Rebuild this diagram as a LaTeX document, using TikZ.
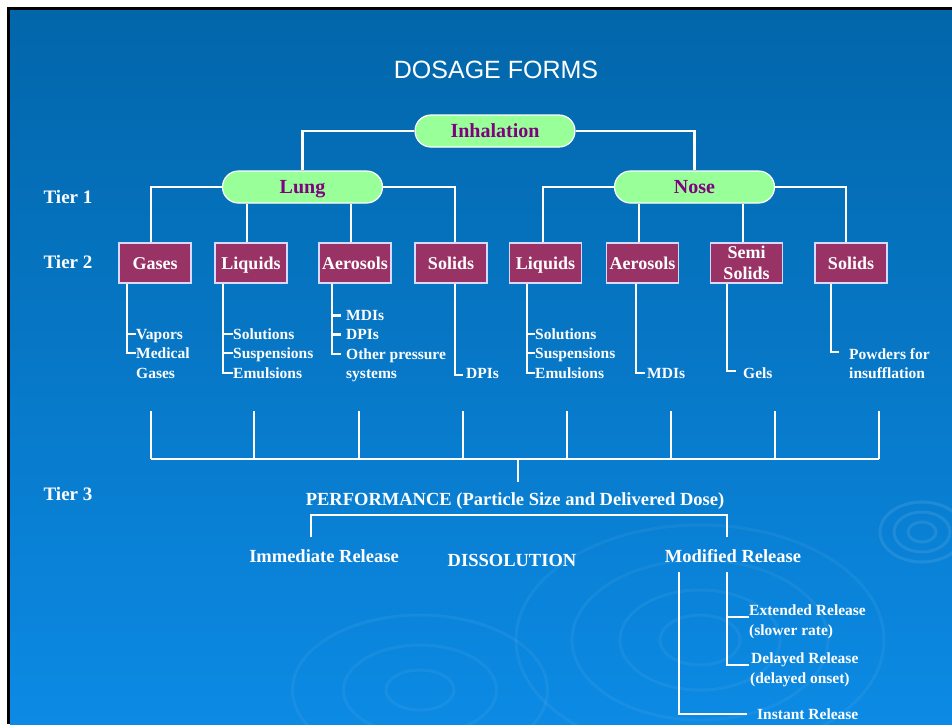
\documentclass[tikz,border=0pt]{standalone}
\usepackage{fontspec}
\setmainfont{Liberation Serif}
\newfontfamily\arialf{Liberation Sans}
\definecolor{pillfill}{RGB}{153,255,153}
\definecolor{pilltext}{RGB}{128,0,128}
\definecolor{boxfill}{RGB}{153,51,102}
\definecolor{bgtop}{RGB}{2,102,170}
\definecolor{bgbot}{RGB}{12,138,228}
\begin{document}
\begin{tikzpicture}[x=1pt,y=-1pt,
  ln/.style={white,line width=2.2pt},
  ripple/.style={white,opacity=0.05,line width=3pt},
  pill/.style={draw=white,line width=1.2pt,fill=pillfill,rounded corners=16pt,
    minimum width=160pt,minimum height=32pt,inner sep=0pt,text=pilltext,
    font=\fontsize{20}{24}\selectfont\bfseries,text height=13.3pt,text depth=0pt},
  box/.style={draw=white!85!blue,line width=1.2pt,fill=boxfill,minimum width=72pt,
    minimum height=40pt,inner sep=0pt,text=white,font=\fontsize{18}{22}\selectfont\bfseries},
  onebox/.style={box,text height=12.2pt,text depth=0pt},
  item/.style={text=white,font=\fontsize{15.5}{18}\selectfont\bfseries,inner sep=0pt,
    anchor=west,text height=10.5pt,text depth=0pt},
  tier/.style={text=white,font=\fontsize{19}{22}\selectfont\bfseries,inner sep=0pt,
    text height=12.8pt,text depth=0pt},
  mid/.style={text=white,font=\fontsize{18.5}{22}\selectfont\bfseries,inner sep=0pt,
    text height=12.5pt,text depth=0pt},
  titlest/.style={text=white,font=\fontsize{25}{30}\selectfont\arialf,inner sep=0pt,
    text height=17.9pt,text depth=0pt}
]
\useasboundingbox (0,0) rectangle (952,724);
% frame and background
\fill[white] (0,0) rectangle (952,724);
\fill[black] (7,7) rectangle (952,724);
\shade[top color=bgtop,bottom color=bgbot] (10,10) rectangle (952,724);
% ripples
\begin{scope}
\clip (10,10) rectangle (952,724);
\foreach \r in {10,20,30} \draw[ripple,opacity=0.09] (922,532) ellipse ({\r*1.4} and {\r});
\foreach \r in {25,50,80,115} \draw[ripple] (700,640) ellipse ({\r*1.6} and {\r});
\foreach \r in {20,45,75} \draw[ripple] (420,690) ellipse ({\r*1.7} and {\r});
\end{scope}

% title
\node[titlest] (title) at (496,70) {DOSAGE FORMS};

% tier labels
\node[tier] (tier1) at (68,197) {Tier 1};
\node[tier] (tier2) at (68,262) {Tier 2};
\node[tier] (tier3) at (68,494) {Tier 3};

% tier 1
\node[pill] (inh) at (495,131) {Inhalation};
\node[pill] (lung) at (302.5,187) {Lung};
\node[pill] (nose) at (694.5,187) {Nose};

% tier 2 boxes
\node[onebox] (g1) at (155,263) {Gases};
\node[onebox] (l1) at (251,263) {Liquids};
\node[onebox] (a1) at (355,263) {Aerosols};
\node[onebox] (s1) at (451,263) {Solids};
\node[onebox] (l2) at (545.5,263) {Liquids};
\node[onebox] (a2) at (642.5,263) {Aerosols};
\node[box,align=center] (ss) at (746.5,263) {Semi\\[-1pt]Solids};
\node[onebox] (so2) at (851,263) {Solids};

% connectors tier 1
\draw[ln] (inh.west) -| (lung.north);
\draw[ln] (inh.east) -| (nose.north);
\draw[ln] (lung.west) -| ([xshift=-4pt]g1.north);
\draw[ln] ([xshift=-4pt]l1.north) -- ([xshift=-4pt]l1.north |- lung.south);
\draw[ln] ([xshift=-4pt]a1.north) -- ([xshift=-4pt]a1.north |- lung.south);
\draw[ln] (lung.east) -| ([xshift=4pt]s1.north);
\draw[ln] (nose.west) -| ([xshift=-2.5pt]l2.north);
\draw[ln] ([xshift=-3.5pt]a2.north) -- ([xshift=-3.5pt]a2.north |- nose.south);
\draw[ln] ([xshift=-3.5pt]ss.north) -- ([xshift=-3.5pt]ss.north |- nose.south);
\draw[ln] (nose.east) -| ([xshift=-5pt]so2.north);

% Gases items
\node[item] (vap) at (136,334) {Vapors};
\node[item] (med) at (136,353) {Medical};
\node[item] (medg) at (136,373) {Gases};
\draw[ln] ([xshift=-28pt]g1.south) |- (med.west);
\draw[ln] (vap.west) -- ++(-9,0);

% Liquids (lung)
\node[item] (sol1) at (233,334) {Solutions};
\node[item] (sus1) at (233,353) {Suspensions};
\node[item] (emu1) at (233,373) {Emulsions};
\draw[ln] ([xshift=-28pt]l1.south) |- (emu1.west);
\draw[ln] (sol1.west) -- ++(-10,0);
\draw[ln] (sus1.west) -- ++(-10,0);

% Aerosols (lung)
\node[item] (mdi1) at (346,315.5) {MDIs};
\node[item] (dpi1) at (346,334.5) {DPIs};
\node[item] (oth) at (346,354) {Other pressure};
\node[item] (sys) at (346,373.5) {systems};
\draw[ln] ([xshift=-23pt]a1.south) |- ([xshift=-5pt]oth.west);
\draw[ln] ([xshift=-5pt]mdi1.west) -- ++(-9,0);
\draw[ln] ([xshift=-5pt]dpi1.west) -- ++(-9,0);

% Solids (lung)
\node[item] (dpi2) at (466,373) {DPIs};
\draw[ln] ([xshift=4pt]s1.south) |- ([xshift=-3pt,yshift=-2pt]dpi2.west);

% Liquids (nose)
\node[item] (sol2) at (535,334) {Solutions};
\node[item] (sus2) at (535,353) {Suspensions};
\node[item] (emu2) at (535,373) {Emulsions};
\draw[ln] ([xshift=-18.5pt]l2.south) |- (emu2.west);
\draw[ln] (sol2.west) -- ++(-8,0);
\draw[ln] (sus2.west) -- ++(-8,0);

% Aerosols (nose)
\node[item] (mdi2) at (647,373) {MDIs};
\draw[ln] ([xshift=-6.5pt]a2.south) |- ([xshift=-2pt]mdi2.west);

% Semi solids
\node[item] (gels) at (743,373) {Gels};
\draw[ln] ([xshift=-19.5pt]ss.south) |- ([xshift=-7pt,yshift=2pt]gels.west);

% Solids (nose)
\node[item] (pow) at (849,354) {Powders for};
\node[item] (insf) at (849,373) {insufflation};
\draw[ln] ([xshift=-20pt]so2.south) |- ([xshift=-10pt,yshift=2pt]pow.west);

% performance bus
\foreach \x in {151,254,359,463,567,671,775,879}
  \draw[ln] (\x,411) -- (\x,459);
\coordinate (busl) at (151,459);
\coordinate (busr) at (879,459);
\coordinate (bus) at (518,459);
\draw[ln] (busl) -- (busr);
\node[mid] (perf) at (515,499) {PERFORMANCE (Particle Size and Delivered Dose)};
\draw[ln] (bus) -- ([yshift=10.7pt]bus |- perf.north);

% tier 3 lower
\node[mid] (imm) at (324,556) {Immediate Release};
\node[mid] (diss) at (512,560) {DISSOLUTION};
\node[mid] (mod) at (733,556) {Modified Release};
\coordinate (brl) at ([xshift=-13pt,yshift=13pt]imm.north);
\coordinate (brr) at ([xshift=-6pt,yshift=13pt]mod.north);
\coordinate (brtop) at (515,515);
\draw[ln] (brl) |- (brtop) -| (brr);

% modified release subtree
\node[item] (ext) at (749,610) {Extended Release};
\node[item] (slow) at (749,630) {(slower rate)};
\node[item] (del) at (751,658) {Delayed Release};
\node[item] (delon) at (750,678) {(delayed onset)};
\node[item] (inst) at (757,714) {Instant Release};
\draw[ln] ([xshift=-54pt,yshift=-16pt]mod.center) |- ([xshift=-10pt]inst.west);
\draw[ln] ([xshift=-6pt,yshift=-16pt]mod.center) |- ([xshift=-2pt,yshift=-7pt]del.west);
\draw[ln] ([yshift=-7pt]ext.west) -- ++(-22,0);
\end{tikzpicture}
\end{document}
